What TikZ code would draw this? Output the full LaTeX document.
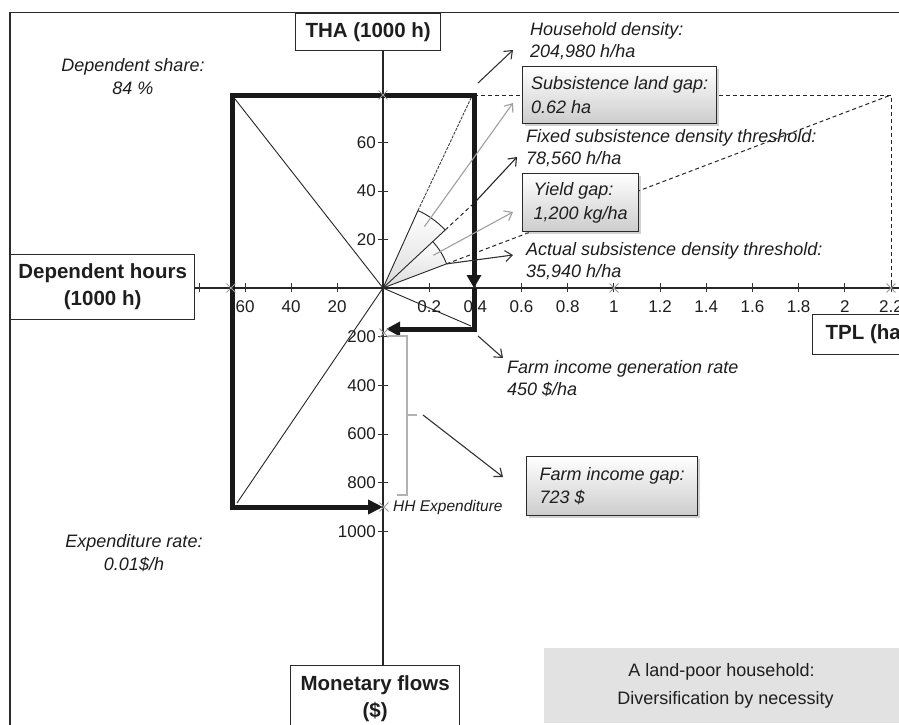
\documentclass[tikz,border=0pt]{standalone}
\usepackage{fontspec}
\setmainfont{Liberation Sans}
\usetikzlibrary{arrows.meta,shadows,shapes.misc,calc}
\definecolor{txt}{HTML}{1E1E1E}
\definecolor{frm}{HTML}{2A2A2A}
\definecolor{bxgray}{HTML}{E2E2E2}
\begin{document}
\begin{tikzpicture}[x=1pt,y=-1pt,
  lbl/.style={font=\fontsize{18}{22.5}\selectfont\itshape, text=txt, inner sep=0, align=left, anchor=west},
  axbox/.style={draw=frm, line width=1.3, fill=white, font=\fontsize{20.5}{27}\selectfont\bfseries, text=txt, align=center, inner sep=0, anchor=north west},
  ticklbl/.style={font=\fontsize{17}{20}\selectfont, text=txt, inner sep=0},
  gapbox/.style={draw=frm, line width=1.3, top color=white, bottom color=black!20,
    drop shadow={opacity=0.35, shadow xshift=2.5pt, shadow yshift=-2.5pt},
    font=\fontsize{18}{23.5}\selectfont\itshape, text=txt, align=left, inner sep=0, anchor=north west},
  thickp/.style={line width=5, line join=miter, black!90},
  thinp/.style={line width=0.9, black!85},
  larrow/.style={-{Straight Barb[length=7pt,width=11pt]}, line width=1.1, black!80},
  dsh/.style={dash pattern=on 4pt off 3pt, line width=1, black!85},
  xmark/.style={cross out, draw=gray!80, minimum size=8pt, inner sep=0, line width=0.9},
  tickmk/.style={line width=0.9, black!80}
]
\useasboundingbox (0,0) rectangle (899,725);
\clip (0,0) rectangle (899,725);
\fill[white] (0,0) rectangle (899,725);

% frame
\coordinate (frBL) at (10,740);
\coordinate (frTL) at (10,12.5);
\coordinate (frTR) at (910,12.5);
\draw[frm, line width=1.3] (frBL) -- (frTL) -- (frTR);

% axis boxes
\node[axbox, minimum width=145, minimum height=37.5] (tha) at (295,12.5) {THA (1000 h)};
\node[axbox, minimum width=184, minimum height=65] (dep) at (10,254) {Dependent hours\\(1000 h)};
\node[axbox, minimum height=40, inner xsep=13pt] (tpl) at (812,314) {TPL (ha)};
\node[axbox, minimum width=169, minimum height=67] (mon) at (290,665) {Monetary flows\\(\$)};
\node[fill=bxgray, minimum width=360, minimum height=75, anchor=north west, inner sep=0] (title) at (544,648) {};
\node[font=\fontsize{18}{28}\selectfont, text=txt, align=center, inner sep=0] (titletxt) at (721.5,686) {A land-poor household:\\\hspace*{8pt}Diversification by necessity};

% axes
\coordinate (O) at (383,288);
\coordinate (axR) at (905,288);
\draw[line width=1.1, black!85] (O |- tha.south) -- (O |- mon.north);
\draw[line width=1.1, black!85] (dep.east |- O) -- (axR);

% ticks horizontal positive
\foreach \v/\t in {0.2/0.2,0.4/0.4,0.6/0.6,0.8/0.8,1/1,1.2/1.2,1.4/1.4,1.6/1.6,1.8/1.8,2/2,2.2/2.2}{
  \pgfmathsetmacro{\xx}{383+\v*230.9}
  \draw[tickmk] (\xx,283) -- (\xx,292);
  \node[ticklbl] (hp\t) at (\xx,307) {\t};
}
% ticks horizontal negative
\foreach \v in {20,40,60,80}{
  \pgfmathsetmacro{\xx}{383-\v*2.3}
  \draw[tickmk] (\xx,283) -- (\xx,292);
}
\foreach \v in {20,40,60}{
  \pgfmathsetmacro{\xx}{383-\v*2.3}
  \node[ticklbl] (hn\v) at (\xx,307) {\v};
}
% ticks vertical up
\foreach \v in {20,40,60}{
  \pgfmathsetmacro{\yy}{288.5-\v*2.435}
  \draw[tickmk] (378,\yy) -- (388,\yy);
  \node[ticklbl, anchor=east] (vu\v) at (376,\yy) {\v};
}
% ticks vertical down
\foreach \v in {200,400,600,800,1000}{
  \pgfmathsetmacro{\yy}{288+\v*0.2435}
  \draw[tickmk] (378,\yy) -- (388,\yy);
  \node[ticklbl, anchor=east] (vd\v) at (376,\yy) {\v};
}

% key points
\coordinate (TL) at (232,95);
\coordinate (TR) at (474,95);
\coordinate (BL) at (232,507);
\coordinate (HH) at (383,507);
\coordinate (DX) at (474,288);
\coordinate (BR) at (474,329);
\coordinate (FE) at (386,329);
\coordinate (gapC) at (891,95);
\coordinate (g22) at (891,288);

% wedges
\begin{scope}[shift={(383,288)}, yscale=-1]
  \shade[top color=white, bottom color=gray!28] (0,0) -- (43:85) arc[start angle=43, end angle=65.7, radius=85] -- cycle;
  \shade[top color=white, bottom color=gray!28] (0,0) -- (20.8:68) arc[start angle=20.8, end angle=43, radius=68] -- cycle;
  \draw[thinp] (43:85) arc[start angle=43, end angle=65.7, radius=85];
  \draw[thinp] (20.8:68) arc[start angle=20.8, end angle=43, radius=68];
  \coordinate (hA) at (65.7:85);
  \coordinate (fA) at (43:85);
  \coordinate (fC) at (43:126);
  \coordinate (aA) at (20.8:68);
  \coordinate (uG) at (56:74);
  \coordinate (lG) at (33:60);
\end{scope}

% thin lines from origin
\coordinate (tlc) at (235,99);
\coordinate (blc) at (237,503);
\coordinate (brc) at (471,326);
\coordinate (hE) at (471,98);
\draw[thinp] (O) -- (tlc);
\draw[thinp] (O) -- (blc);
\draw[thinp] (O) -- (brc);
\draw[thinp] (O) -- (hA);
\draw[line width=0.9, black!75, dash pattern=on 3pt off 1.2pt] (hA) -- (hE);
\draw[thinp] (O) -- (fA);
\draw[thinp] (O) -- (aA);

% dashed gap lines
\draw[dsh] (fA) -- (fC);
\draw[dsh] (aA) -- (gapC);
\draw[dsh] (TR) -- (gapC) -- (g22);

% thick rectangle
\draw[thickp, {Triangle[length=15pt,width=14pt]}-{Triangle[length=13pt,width=14pt]}] (HH) -- (BL) -- (TL) -- (TR) -- (DX);
\draw[thickp, -{Triangle[length=14pt,width=14pt]}] (DX) -- (BR) -- (FE);

% gray bracket
\coordinate (bk1) at (388,336);
\coordinate (bk2) at (407,336);
\coordinate (bk3) at (407,495);
\coordinate (bk4) at (397,495);
\coordinate (bkm) at (407,415);
\coordinate (bkt) at (417,415);
\draw[gray!60, line width=1.3] (bk1) -- (bk2) -- (bk3) -- (bk4);
\draw[gray!60, line width=1.3] (bkm) -- (bkt);

% gap boxes
\node[gapbox, minimum width=194, minimum height=57] (sg) at (522,66) {Subsistence land gap:\\0.62 ha};
\node[gapbox, minimum width=116, minimum height=58] (yg) at (522,173) {Yield gap:\\1,200 kg/ha};
\node[gapbox, minimum width=171, minimum height=59] (fg) at (526,456) {Farm income gap:\\723 \$};

% labels
\node[lbl] (hdl) at (530,41) {Household density:\\204,980 h/ha};
\node[lbl] (fxl) at (526,148) {Fixed subsistence density threshold:\\78,560 h/ha};
\node[lbl] (acl) at (526,261) {Actual subsistence density threshold:\\35,940 h/ha};
\node[lbl] (fgr) at (507,378.5) {Farm income generation rate\\450 \$/ha};
\node[lbl, font=\fontsize{15.5}{18}\selectfont\itshape] (hhe) at (393,507) {HH Expenditure};
\node[lbl, align=center, anchor=center] (dsl) at (133,76.5) {Dependent share:\\84 \%};
\node[lbl, align=center, anchor=center] (exr) at (134,553) {Expenditure rate:\\0.01\$/h};

% label arrows
\coordinate (hdS) at (478,83);
\coordinate (hdE) at (513,50);
\coordinate (sgE) at (513,103);
\coordinate (fxE) at (517,157);
\coordinate (ygE) at (513,212);
\coordinate (acE) at (513,255);
\coordinate (fiS) at (478,336);
\coordinate (fiE) at (503,358);
\coordinate (bmS) at (423,415);
\coordinate (fgE) at (503,477);
\draw[larrow] (hdS) -- (hdE);
\draw[larrow, gray!75] (uG) -- (sgE);
\draw[larrow, black!85] (fC) -- (fxE);
\draw[larrow, gray!75] (lG) -- (ygE);
\draw[larrow] (aA) -- (acE);
\draw[larrow] (fiS) -- (fiE);
\draw[larrow] (bmS) -- (fgE);

% x marks
\node[xmark] (xm1) at (383,95) {};
\node[xmark] (xm2) at (231,288) {};
\node[xmark] (xm3) at (614,288) {};
\node[xmark] (xm4) at (891,288) {};
\node[xmark] (xm5) at (384,507) {};
\node[xmark] (xm6) at (384,333) {};
\end{tikzpicture}
\end{document}
